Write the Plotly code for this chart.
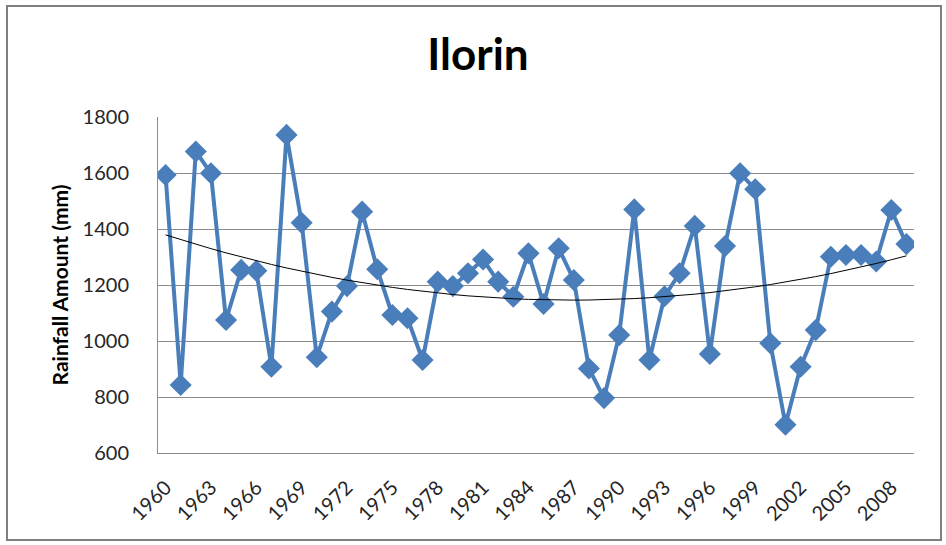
import numpy as np
import plotly.graph_objects as go

# Annual rainfall at Ilorin, 1960-2009
years = list(range(1960, 2010))
rainfall_mm = [
    1593, 843, 1677, 1599, 1075, 1254, 1251, 908, 1736, 1422,
    942, 1105, 1196, 1462, 1256, 1093, 1081, 932, 1212, 1196,
    1242, 1291, 1212, 1158, 1313, 1132, 1331, 1218, 902, 796,
    1021, 1470, 932, 1160, 1242, 1411, 954, 1339, 1599, 1542,
    992, 701, 908, 1039, 1301, 1307, 1307, 1284, 1468, 1346,
]
tick_years = list(range(1960, 2010, 3))
y_ticks = [600, 800, 1000, 1200, 1400, 1600, 1800]

# Second-order polynomial trend line fitted to the series
idx = np.arange(1, len(years) + 1)
coef = np.polyfit(idx, rainfall_mm, 2)
trend = np.polyval(coef, idx)

font_family = "Lato, 'Open Sans', sans-serif"

fig = go.Figure()
fig.add_trace(go.Scatter(
    x=years, y=rainfall_mm, mode="lines+markers",
    line=dict(color="#4A7EBB", width=4),
    marker=dict(symbol="diamond", size=17, color="#4A7EBB"),
    showlegend=False, hoverinfo="x+y",
))
fig.add_trace(go.Scatter(
    x=years, y=trend, mode="lines",
    line=dict(color="#000000", width=1),
    showlegend=False, hoverinfo="skip",
))

# Outer chart frame
fig.add_shape(type="rect", xref="paper", yref="paper",
              x0=(7 - 158) / 756, x1=(941 - 158) / 756,
              y0=(453 - 540) / 336, y1=(453 - 6) / 336,
              line=dict(color="#7F7F7F", width=2), layer="below")

fig.update_layout(
    width=946, height=545,
    margin=dict(l=158, r=32, t=117, b=92),
    paper_bgcolor="white", plot_bgcolor="white",
    font=dict(family=font_family, color="#262626"),
    title=dict(text="<b>Ilorin</b>", x=478 / 946, xref="container",
               xanchor="center", y=(545 - 55) / 545, yanchor="middle",
               font=dict(size=44, color="#000000", family=font_family)),
)
fig.update_xaxes(
    range=[1959.5, 2009.5], tickvals=tick_years,
    ticktext=[str(y) for y in tick_years], tickangle=-45,
    tickfont=dict(size=20, color="#262626"),
    ticklabelstandoff=14,
    showgrid=False, zeroline=False,
    showline=True, linecolor="#8C8C8C", linewidth=1,
)
fig.update_yaxes(
    range=[600, 1800], tickvals=y_ticks,
    tickfont=dict(size=20, color="#262626"),
    ticklabelstandoff=24,
    showgrid=True, gridcolor="#8C8C8C", gridwidth=1, zeroline=False,
    showline=True, linecolor="#8C8C8C", linewidth=1,
    title=dict(text="<b>Rainfall Amount (mm)</b>", standoff=8,
               font=dict(size=21, color="#000000", family=font_family)),
)

fig.write_html("out.html")
